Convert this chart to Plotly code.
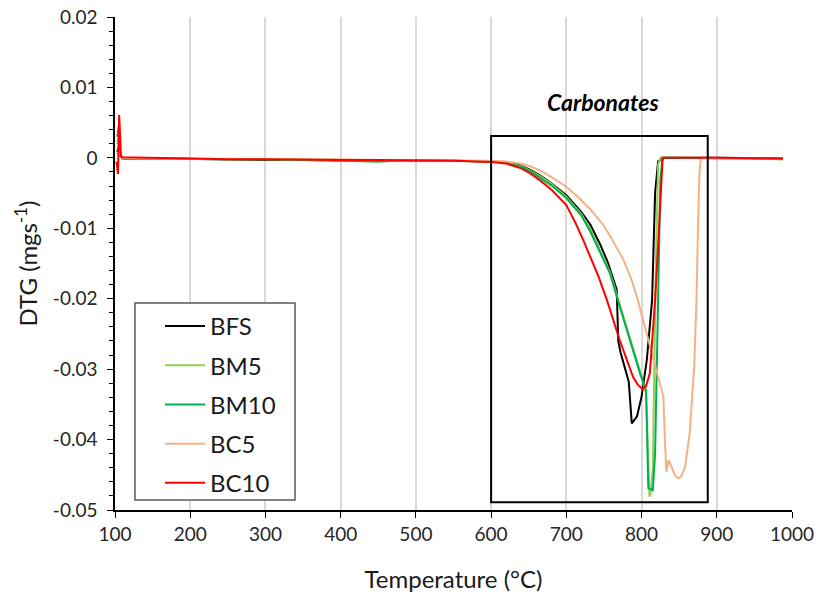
# DTG curves with the carbonate decomposition zone boxed
import plotly.graph_objects as go

# flat part shared by all samples (100-600 °C)
flat_x = [110, 150, 200, 250, 300, 350, 400, 450, 500, 550, 600]

# BFS
bfs_x = [103, 105, 107] + flat_x + [620, 640, 652, 665, 680, 700, 720, 732, 745, 755, 762, 767, 769, 772, 777,
                                   783, 787, 790, 794, 800, 807, 814, 818, 822, 830, 900, 950, 988]
bfs_y = [0.0008, 0.0015, 0.0003,
         -0.0001, -0.0001, -0.0002, -0.0002, -0.0003, -0.0003, -0.0003, -0.0004, -0.0003, -0.0004, -0.0005,
         -0.0006, -0.0011, -0.0017, -0.0025, -0.0036, -0.0053, -0.0077, -0.0095, -0.0123, -0.0148, -0.0169,
         -0.0187, -0.0260, -0.0276, -0.0295, -0.0318, -0.0377, -0.0373, -0.0367, -0.0339, -0.0287, -0.0202,
         -0.0050, -0.0005, 0.0, 0.0, 0.0, -0.0001]

# BM5
bm5_x = [103, 105, 107] + flat_x + [620, 640, 652, 665, 680, 700, 720, 732, 745, 758, 771, 785, 798, 806,
                                   810.5, 812, 815, 819, 822, 825, 900, 950, 988]
bm5_y = [0.002, 0.0035, 0.0004,
         -0.0001, -0.0001, -0.0002, -0.0002, -0.0002, -0.0003, -0.0003, -0.0005, -0.0003, -0.0004, -0.0005,
         -0.0007, -0.0012, -0.0018, -0.0026, -0.0037, -0.0055, -0.0080, -0.0101, -0.0131, -0.0162, -0.0208,
         -0.0257, -0.0303, -0.0335, -0.0481, -0.0478, -0.0440, -0.0150, -0.0010, 0.0, 0.0, -0.0001, -0.0002]

# BM10
bm10_x = [103, 105, 107] + flat_x + [620, 640, 652, 665, 680, 700, 720, 732, 745, 758, 771, 785, 798, 806,
                                    809, 815, 818, 822, 825, 828, 900, 950, 988]
bm10_y = [0.003, 0.0045, 0.0004,
          -0.0001, -0.0001, -0.0002, -0.0002, -0.0002, -0.0003, -0.0003, -0.0005, -0.0003, -0.0004, -0.0005,
          -0.0007, -0.0013, -0.0019, -0.0028, -0.0039, -0.0057, -0.0082, -0.0105, -0.0135, -0.0164, -0.0211,
          -0.0260, -0.0306, -0.0330, -0.0469, -0.0472, -0.0420, -0.0202, -0.0030, 0.0, 0.0, -0.0001, -0.0002]

# BC5
bc5_x = [103, 105, 107] + flat_x + [620, 640, 652, 665, 680, 700, 716, 732, 749, 760, 776, 786, 794, 805, 816,
                                   824, 829, 831, 833, 836, 840, 845, 849, 853, 858, 864, 870, 873, 875,
                                   877, 879, 900, 950, 988]
bc5_y = [0.0005, 0.001, 0.0002,
         0.0, -0.0001, -0.0001, -0.0001, -0.0002, -0.0002, -0.0002, -0.0003, -0.0003, -0.0003, -0.0004,
         -0.0005, -0.0008, -0.0012, -0.0018, -0.0027, -0.0041, -0.0056, -0.0073, -0.0095, -0.0114, -0.0145,
         -0.0171, -0.0198, -0.0243, -0.0287, -0.0318, -0.0339, -0.0400, -0.0446, -0.0429, -0.0440, -0.0452,
         -0.0455, -0.0452, -0.0438, -0.0391, -0.0296, -0.0202, -0.0100, -0.0020, 0.0, 0.0, 0.0, -0.0001]

# BC10
bc10_x = [102, 104, 105.5, 107, 108] + flat_x + [620, 640, 652, 665, 680, 700, 712, 723, 732, 743, 754, 771,
                                               789, 795, 801, 806, 811, 818, 822.5, 826, 828, 900, 950, 988]
bc10_y = [-0.0005, -0.0023, 0.0061, 0.0008, 0.0002,
          0.0001, 0.0, -0.0001, -0.0002, -0.0002, -0.0003, -0.0003, -0.0003, -0.0003, -0.0004, -0.0006,
          -0.0008, -0.0015, -0.0022, -0.0032, -0.0045, -0.0067, -0.0092, -0.0118, -0.0142, -0.0169, -0.0202,
          -0.0259, -0.0312, -0.0322, -0.0328, -0.0324, -0.0306, -0.0202, -0.0116, -0.0030, 0.0, 0.0, 0.0,
          -0.0001]

names = ["BFS", "BM5", "BM10", "BC5", "BC10"]
colors = ["#000000", "#92D050", "#00B050", "#F4B183", "#FF0000"]
xs = [bfs_x, bm5_x, bm10_x, bc5_x, bc10_x]
ys = [bfs_y, bm5_y, bm10_y, bc5_y, bc10_y]

y_ticks = [0.02, 0.01, 0, -0.01, -0.02, -0.03, -0.04, -0.05]
y_labels = ["0.02", "0.01", "0", "-0.01", "-0.02", "-0.03", "-0.04", "-0.05"]

fig = go.Figure()
for n, c, x, y in zip(names, colors, xs, ys):
    fig.add_trace(go.Scatter(x=x, y=y, mode="lines", name=n, legendgroup=n,
                             line=dict(color=c, width=2)))

# carbonates box
fig.add_shape(type="rect", x0=600, x1=888, y0=-0.0489, y1=0.0031,
              line=dict(color="black", width=2), fillcolor="rgba(0,0,0,0)")
fig.add_annotation(x=749, y=0.008, text="<b><i>Carbonates</i></b>", showarrow=False,
                   font=dict(size=23, color="black"))

# legend frame (drawn as a shape so it can be wider than the entries)
fig.add_shape(type="rect", xref="paper", yref="paper", x0=0.0295, x1=0.2659, y0=0.0203, y1=0.4199,
              line=dict(color="#595959", width=1.5), fillcolor="white", layer="above")

fig.update_layout(
    width=818, height=608,
    margin=dict(l=115, r=26, t=17, b=98),
    plot_bgcolor="white", paper_bgcolor="white",
    font=dict(family="Lato, Open Sans, sans-serif", color="#1a1a1a"),
    legend=dict(x=0.0665, y=0.418, xanchor="left", yanchor="top",
                borderwidth=0, bgcolor="rgba(0,0,0,0)", itemwidth=40,
                font=dict(size=24), tracegroupgap=5, traceorder="grouped"),
)
fig.update_xaxes(range=[100, 1000], dtick=100, showgrid=True, gridcolor="#d9d9d9", gridwidth=1.5,
                 showline=True, linecolor="black", linewidth=1.5, ticks="outside", ticklen=6,
                 tickcolor="black", tickfont=dict(size=19, color="#262626"), zeroline=False,
                 automargin=False, ticklabeloverflow="allow",
                 title=dict(text="Temperature (°C)", font=dict(size=24), standoff=28))
fig.update_yaxes(range=[-0.05, 0.02], tickvals=y_ticks, ticktext=y_labels, showgrid=False,
                 showline=True, linecolor="black", linewidth=1.5, ticks="outside", ticklen=6,
                 tickcolor="black", tickfont=dict(size=19, color="#262626"), zeroline=False,
                 ticklabelstandoff=6, automargin=False, ticklabeloverflow="allow",
                 minor=dict(dtick=0.002, ticks="outside", ticklen=4, tickcolor="black"),
                 title=dict(text="DTG (mgs<sup>-1</sup>)", font=dict(size=24), standoff=8))

# drop the default 8px page margin so the figure fills the window exactly
fig.write_html("out.html", config={"displayModeBar": False},
               post_script="document.body.style.margin='0';")
